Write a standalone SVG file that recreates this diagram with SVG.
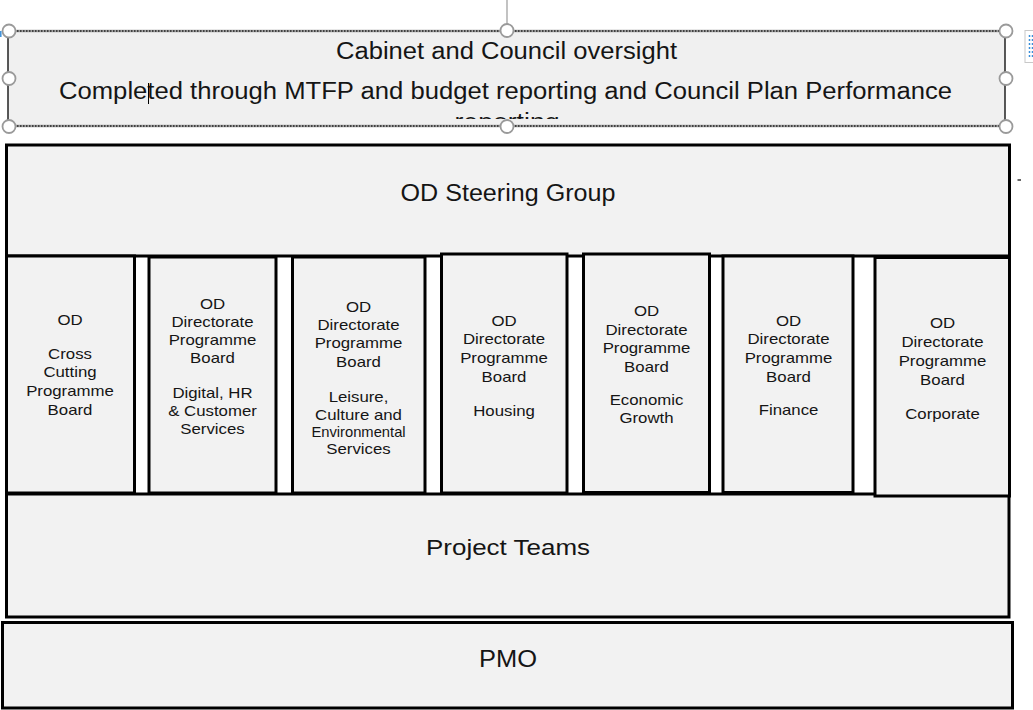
<svg xmlns="http://www.w3.org/2000/svg" width="1033" height="710" viewBox="0 0 1033 710">
  <style>
    .box { fill: #f2f2f2; stroke: #000; stroke-width: 3; }
    .lbl { font-family: "Liberation Sans", Arial, sans-serif; fill: #151515; text-anchor: middle; }
    .big { font-size: 23px; }
    .small { font-size: 14px; }
    .handle { fill: #fff; stroke: #9a9a9a; stroke-width: 1.8; }
  </style>
  <defs>
    <clipPath id="cabinetClip">
      <rect x="9" y="32" width="995" height="87"/>
    </clipPath>
  </defs>

  <rect x="0" y="0" width="1033" height="710" fill="#fff"/>

  <!-- Oversight text box (shown selected) -->
  <g id="cabinet-oversight">
    <rect x="8" y="31" width="997" height="95" fill="#f0f0f0"/>
    <line x1="8" y1="31" x2="8" y2="126" stroke="#222" stroke-width="1.5"/>
    <line x1="1005" y1="31" x2="1005" y2="126" stroke="#222" stroke-width="1.5"/>
    <line x1="8" y1="31" x2="1005" y2="31" stroke="#a0a0a0" stroke-width="2.4"/>
    <line x1="8" y1="31" x2="1005" y2="31" stroke="#222" stroke-width="1.4" stroke-dasharray="1.5 1.5"/>
    <line x1="8" y1="126" x2="1005" y2="126" stroke="#a0a0a0" stroke-width="2.4"/>
    <line x1="8" y1="126" x2="1005" y2="126" stroke="#222" stroke-width="1.4" stroke-dasharray="1.5 1.5"/>
    <text class="lbl big" x="506.5" y="59" textLength="341" lengthAdjust="spacingAndGlyphs">Cabinet and Council oversight</text>
    <text class="lbl big" x="505.5" y="99" textLength="893" lengthAdjust="spacingAndGlyphs">Completed through MTFP and budget reporting and Council Plan Performance</text>
    <text class="lbl big" x="507" y="130" textLength="105" lengthAdjust="spacingAndGlyphs" clip-path="url(#cabinetClip)" fill="#9a9a9a">reporting</text>
    <!-- text caret -->
    <line x1="148.5" y1="83" x2="148.5" y2="104" stroke="#000" stroke-width="1"/>
    <!-- selection handles -->
    <line x1="507" y1="0" x2="507" y2="24" stroke="#9a9a9a" stroke-width="1.2"/>
    <circle class="handle" cx="9" cy="31" r="6.5"/>
    <circle class="handle" cx="507" cy="30.5" r="6.5"/>
    <circle class="handle" cx="1006" cy="31" r="6.5"/>
    <circle class="handle" cx="9" cy="78.5" r="6.5"/>
    <circle class="handle" cx="1006" cy="78.5" r="6.5"/>
    <circle class="handle" cx="9" cy="126.5" r="6.5"/>
    <circle class="handle" cx="507" cy="126.5" r="6.5"/>
    <circle class="handle" cx="1006" cy="126.5" r="6.5"/>
    <!-- layout options button -->
    <rect x="1025" y="30.5" width="12" height="32" fill="#fff" stroke="#c8c8c8" stroke-width="1"/>
    <line x1="1029.5" y1="35" x2="1029.5" y2="59" stroke="#3b8fd9" stroke-width="1.5" stroke-dasharray="2 2"/>
    <line x1="1032.5" y1="35" x2="1032.5" y2="59" stroke="#3b8fd9" stroke-width="1.5" stroke-dasharray="2 2"/>
    <line x1="0.8" y1="31" x2="0.8" y2="37" stroke="#3b8fd9" stroke-width="1.5"/>
  </g>

  <!-- small stray mark -->
  <line x1="1017.5" y1="180" x2="1021" y2="180" stroke="#333" stroke-width="1.5"/>

  <g id="od-steering-group">
    <rect class="box" x="6.5" y="145" width="1003" height="111"/>
    <text class="lbl big" x="508" y="201" textLength="215" lengthAdjust="spacingAndGlyphs">OD Steering Group</text>
  </g>

  <g id="project-teams">
    <rect class="box" x="6.5" y="494" width="1002.5" height="123"/>
    <text class="lbl" x="508" y="555" font-size="22.5" textLength="164" lengthAdjust="spacingAndGlyphs">Project Teams</text>
  </g>

  <g id="pmo">
    <rect class="box" x="2.5" y="622.5" width="1010" height="85.5"/>
    <text class="lbl big" x="508" y="667" textLength="58" lengthAdjust="spacingAndGlyphs">PMO</text>
  </g>

  <!-- programme boards -->
  <g id="board-cross-cutting">
    <rect class="box" x="6.5" y="256" width="128" height="237"/>
    <g transform="translate(70 0) scale(1.2 1)">
      <text class="lbl small" x="0" y="325.5">OD</text>
      <text class="lbl small" x="0" y="359.5">Cross</text>
      <text class="lbl small" x="0" y="377.5">Cutting</text>
      <text class="lbl small" x="0" y="396.5">Programme</text>
      <text class="lbl small" x="0" y="415">Board</text>
    </g>
  </g>

  <g id="board-digital-hr">
    <rect class="box" x="149" y="257" width="127" height="236"/>
    <g transform="translate(212.5 0) scale(1.2 1)">
      <text class="lbl small" x="0" y="309">OD</text>
      <text class="lbl small" x="0" y="327.5">Directorate</text>
      <text class="lbl small" x="0" y="345.5">Programme</text>
      <text class="lbl small" x="0" y="363.5">Board</text>
      <text class="lbl small" x="0" y="398.5">Digital, HR</text>
      <text class="lbl small" x="0" y="416.5">&amp; Customer</text>
      <text class="lbl small" x="0" y="434.5">Services</text>
    </g>
  </g>

  <g id="board-leisure">
    <rect class="box" x="292.5" y="257" width="132.5" height="236"/>
    <g transform="translate(358.5 0) scale(1.2 1)">
      <text class="lbl small" x="0" y="312">OD</text>
      <text class="lbl small" x="0" y="330.5">Directorate</text>
      <text class="lbl small" x="0" y="348.5">Programme</text>
      <text class="lbl small" x="0" y="367">Board</text>
      <text class="lbl small" x="0" y="402">Leisure,</text>
      <text class="lbl small" x="0" y="420">Culture and</text>
      <text class="lbl small" x="0" y="437.5" textLength="78.5" lengthAdjust="spacingAndGlyphs">Environmental</text>
      <text class="lbl small" x="0" y="454.5">Services</text>
    </g>
  </g>

  <g id="board-housing">
    <rect class="box" x="441.5" y="254" width="125.5" height="239"/>
    <g transform="translate(504 0) scale(1.2 1)">
      <text class="lbl small" x="0" y="326">OD</text>
      <text class="lbl small" x="0" y="344.5">Directorate</text>
      <text class="lbl small" x="0" y="363">Programme</text>
      <text class="lbl small" x="0" y="382">Board</text>
      <text class="lbl small" x="0" y="416">Housing</text>
    </g>
  </g>

  <g id="board-economic-growth">
    <rect class="box" x="583.5" y="254" width="126" height="238.5"/>
    <g transform="translate(646.5 0) scale(1.2 1)">
      <text class="lbl small" x="0" y="316.5">OD</text>
      <text class="lbl small" x="0" y="335">Directorate</text>
      <text class="lbl small" x="0" y="353.5">Programme</text>
      <text class="lbl small" x="0" y="372.5">Board</text>
      <text class="lbl small" x="0" y="405.5">Economic</text>
      <text class="lbl small" x="0" y="423.5">Growth</text>
    </g>
  </g>

  <g id="board-finance">
    <rect class="box" x="723" y="256" width="130" height="236.5"/>
    <g transform="translate(788.5 0) scale(1.2 1)">
      <text class="lbl small" x="0" y="326">OD</text>
      <text class="lbl small" x="0" y="344.5">Directorate</text>
      <text class="lbl small" x="0" y="363">Programme</text>
      <text class="lbl small" x="0" y="382">Board</text>
      <text class="lbl small" x="0" y="415.5">Finance</text>
    </g>
  </g>

  <g id="board-corporate">
    <rect class="box" x="875" y="257.5" width="134.5" height="238.5"/>
    <g transform="translate(942.5 0) scale(1.2 1)">
      <text class="lbl small" x="0" y="328.5">OD</text>
      <text class="lbl small" x="0" y="347.5">Directorate</text>
      <text class="lbl small" x="0" y="366">Programme</text>
      <text class="lbl small" x="0" y="385">Board</text>
      <text class="lbl small" x="0" y="419">Corporate</text>
    </g>
  </g>
</svg>
